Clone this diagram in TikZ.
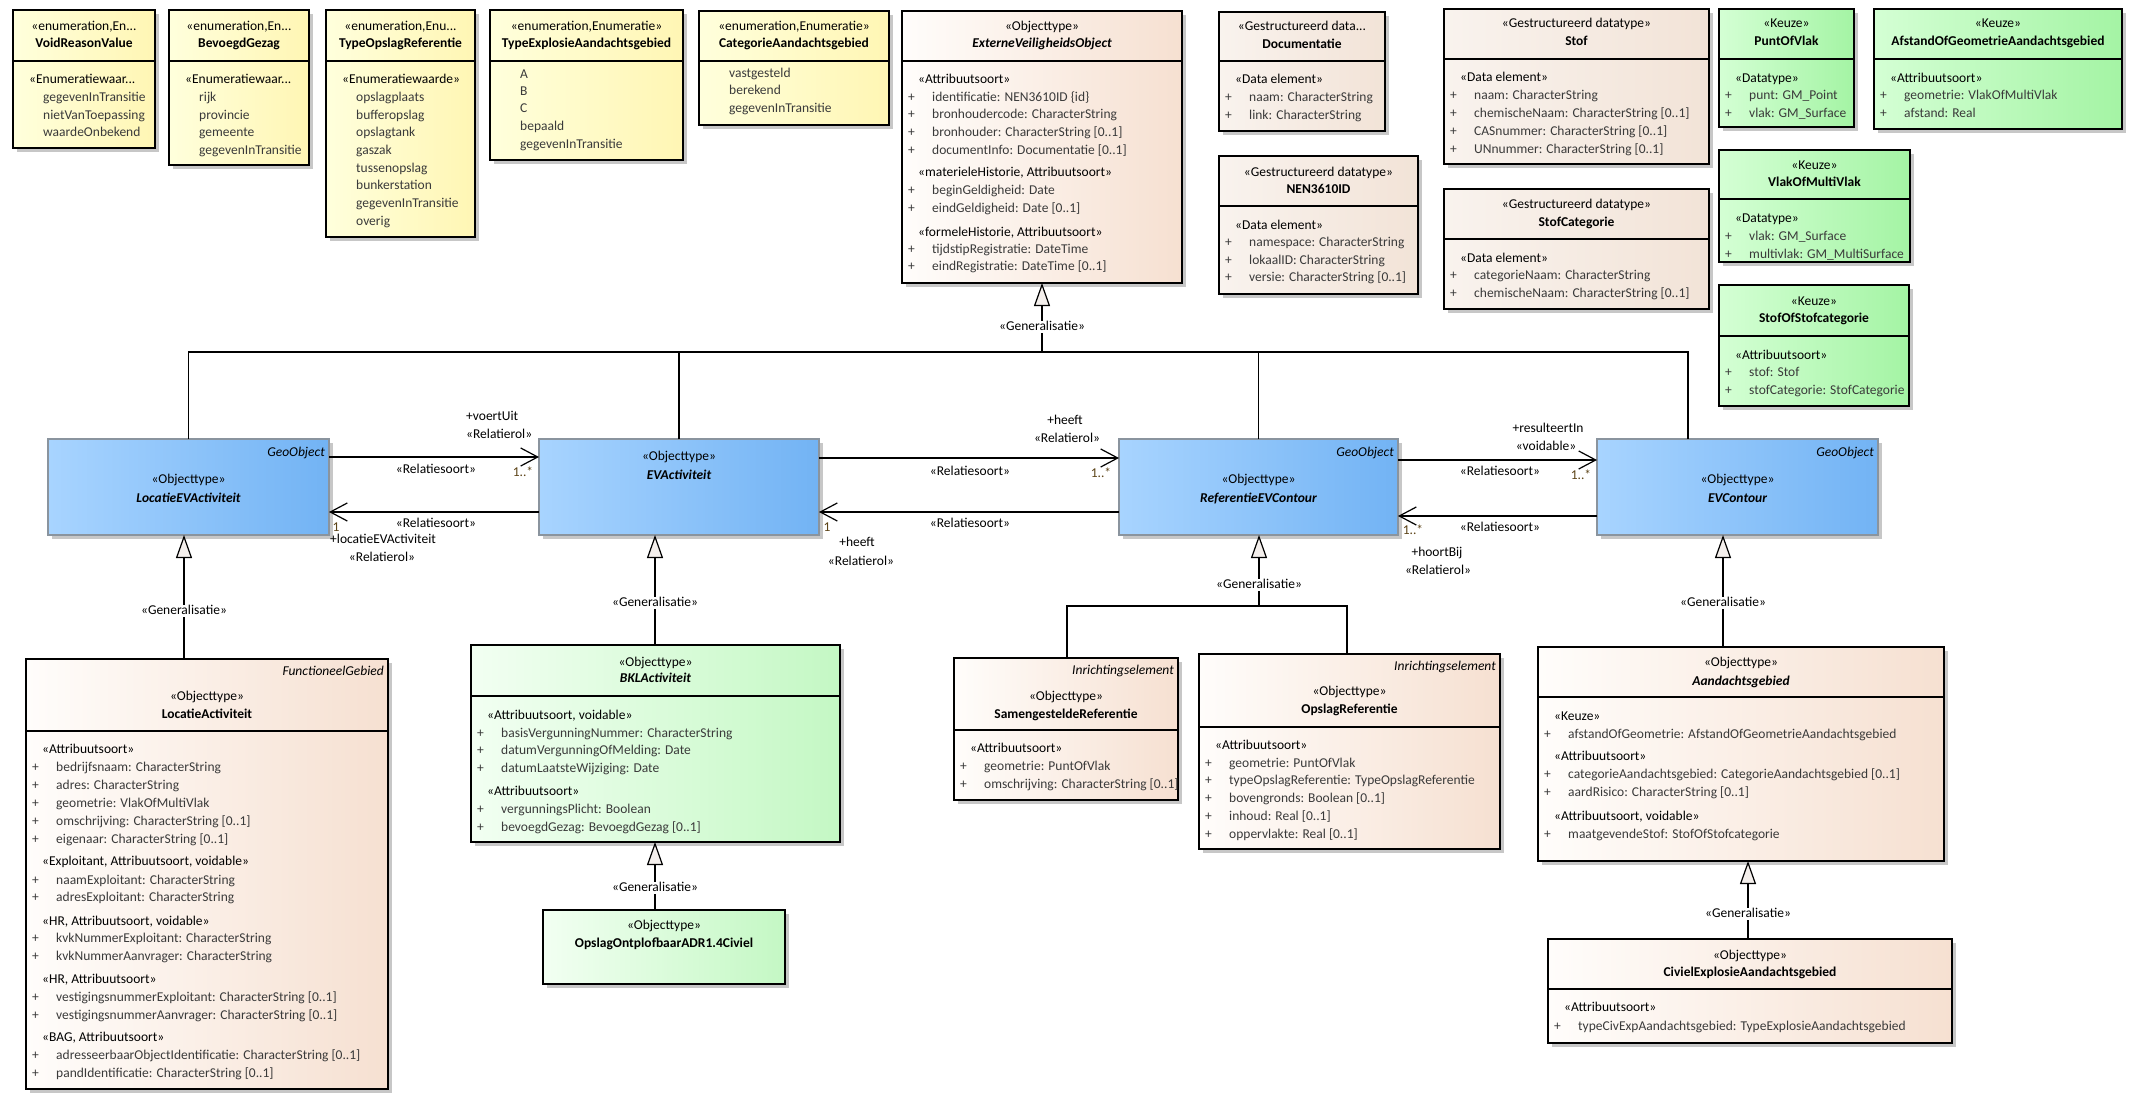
\documentclass[tikz,border=0pt]{standalone}
\usepackage{fontspec}
\setmainfont{Carlito}
\usetikzlibrary{arrows.meta,shadows}

\definecolor{enumL}{HTML}{FFFFDC}
\definecolor{enumR}{HTML}{FFF6B4}
\definecolor{objL}{HTML}{FFFDFB}
\definecolor{objR}{HTML}{F6E0D1}
\definecolor{dtL}{HTML}{F9F3EE}
\definecolor{dtR}{HTML}{F2E3D7}
\definecolor{keuzeL}{HTML}{D4FFD4}
\definecolor{keuzeR}{HTML}{A4F4A4}
\definecolor{bklL}{HTML}{F2FFF2}
\definecolor{bklR}{HTML}{C4F8C4}
\definecolor{geoL}{HTML}{A8D4FF}
\definecolor{geoR}{HTML}{72B3F4}
\definecolor{geoline}{HTML}{8A949E}
\definecolor{attrgray}{HTML}{3A3A3A}
\definecolor{multcol}{HTML}{5C4317}
\definecolor{trifill}{HTML}{F4EFEC}

\newcommand\fs{\fontsize{13.5}{16}\selectfont}

\tikzset{
  box/.style={draw, anchor=north west, outer sep=0pt, inner sep=0pt, line width=1.3pt,
    drop shadow={shadow xshift=4pt, shadow yshift=-4pt, fill=black!22, opacity=1}},
  enumbox/.style={box, left color=enumL, right color=enumR},
  objbox/.style={box, left color=objL, right color=objR},
  dtbox/.style={box, left color=dtL, right color=dtR},
  keuzebox/.style={box, left color=keuzeL, right color=keuzeR},
  bklbox/.style={box, left color=bklL, right color=bklR},
  geobox/.style={box, draw=geoline, line width=1.1pt, left color=geoL, right color=geoR},
  divline/.style={line width=1.3pt},
  txt/.style={font=\fs, inner sep=0pt, text height=9.5pt, text depth=3pt},
  stereo/.style={txt},
  cname/.style={txt, font=\fs\bfseries},
  aname/.style={txt, font=\fs\bfseries\itshape},
  tag/.style={txt, anchor=east, font=\fs\itshape},
  head/.style={txt, anchor=west},
  attr/.style={txt, anchor=west, text=attrgray},
  plus/.style={txt, anchor=west, text=attrgray},
  role/.style={txt},
  mult/.style={txt, text=multcol},
  genlbl/.style={txt, fill=white, inner xsep=2pt},
  conn/.style={line width=1.2pt},
  assoc/.style={conn, -{Straight Barb[length=17pt, width=18pt, line width=1.2pt]}},
  gen/.style={conn, line join=miter, -{Triangle[length=23pt, width=16pt, fill=trifill, line width=1.2pt]}}
}

% box: name, style, x1, y1, x2, y2, divider y
\newcommand\ubox[7]{%
  \node[#2, minimum width={(#5-#3)*1pt}, minimum height={(#6-#4)*1pt}] (#1) at (#3,#4) {};
  \draw[divline] (#1.west |- 0,#7) -- (#1.east |- 0,#7);}
\newcommand\plainbox[6]{%
  \node[#2, minimum width={(#5-#3)*1pt}, minimum height={(#6-#4)*1pt}] (#1) at (#3,#4) {};}
% header: box, y stereotype, y name, stereotype, name, name style
\newcommand\hdr[6]{%
  \node[stereo] (#1-st) at (#1.north |- 0,#2) {#4};
  \node[#6] (#1-nm) at (#1.north |- 0,#3) {#5};}
\newcommand\tagl[3]{\node[tag, xshift=-4pt] (#1-tag) at (#1.east |- 0,#2) {#3};}
% rows: box left x, y, text
\newcommand\hd[3]{\node[head] (h#1-#2) at (#1+16,#2) {#3};}
\newcommand\arow[3]{\node[plus] (p#1-#2) at (#1+6,#2) {+};
  \node[attr] (a#1-#2) at (#1+30,#2) {#3};}
\newcommand\vrow[3]{\node[attr] (v#1-#2) at (#1+30,#2) {#3};}

\begin{document}
\begin{tikzpicture}[x=1pt, y=-1pt]

\fill[white] (0,0) rectangle (2145,1108);
\useasboundingbox (0,0) rectangle (2145,1108);

% -----------------------
% Enumerations
% -----------------------
\ubox{vrv}{enumbox}{13}{10}{155}{148}{61}
\hdr{vrv}{27}{44}{«enumeration,En...}{VoidReasonValue}{cname}
\hd{13}{80}{«Enumeratiewaar...}
\vrow{13}{98}{gegevenInTransitie}
\vrow{13}{116}{nietVanToepassing}
\vrow{13}{133}{waardeOnbekend}

\ubox{bvg}{enumbox}{169}{10}{309}{165}{61}
\hdr{bvg}{27}{44}{«enumeration,En...}{BevoegdGezag}{cname}
\hd{169}{80}{«Enumeratiewaar...}
\vrow{169}{98}{rijk}
\vrow{169}{116}{provincie}
\vrow{169}{133}{gemeente}
\vrow{169}{151}{gegevenInTransitie}

\ubox{tor}{enumbox}{326}{10}{475}{237}{61}
\hdr{tor}{27}{44}{«enumeration,Enu...}{TypeOpslagReferentie}{cname}
\hd{326}{80}{«Enumeratiewaarde»}
\vrow{326}{98}{opslagplaats}
\vrow{326}{116}{bufferopslag}
\vrow{326}{133}{opslagtank}
\vrow{326}{151}{gaszak}
\vrow{326}{169}{tussenopslag}
\vrow{326}{186}{bunkerstation}
\vrow{326}{204}{gegevenInTransitie}
\vrow{326}{222}{overig}

\ubox{tea}{enumbox}{490}{10}{683}{160}{61}
\hdr{tea}{27}{44}{«enumeration,Enumeratie»}{TypeExplosieAandachtsgebied}{cname}
\vrow{490}{75}{A}
\vrow{490}{92}{B}
\vrow{490}{109}{C}
\vrow{490}{127}{bepaald}
\vrow{490}{145}{gegevenInTransitie}

\ubox{cag}{enumbox}{699}{11}{889}{125}{61}
\hdr{cag}{27}{44}{«enumeration,Enumeratie»}{CategorieAandachtsgebied}{cname}
\vrow{699}{74}{vastgesteld}
\vrow{699}{91}{berekend}
\vrow{699}{109}{gegevenInTransitie}

% -----------------------
% Supertype
% -----------------------
\ubox{evo}{objbox}{902}{11}{1182}{283}{61}
\hdr{evo}{27}{44}{«Objecttype»}{ExterneVeiligheidsObject}{aname}
\hd{902}{80}{«Attribuutsoort»}
\arow{902}{98}{identificatie: NEN3610ID \{id\}}
\arow{902}{115}{bronhoudercode: CharacterString}
\arow{902}{133}{bronhouder: CharacterString [0..1]}
\arow{902}{151}{documentInfo: Documentatie [0..1]}
\hd{902}{173}{«materieleHistorie, Attribuutsoort»}
\arow{902}{191}{beginGeldigheid: Date}
\arow{902}{209}{eindGeldigheid: Date [0..1]}
\hd{902}{233}{«formeleHistorie, Attribuutsoort»}
\arow{902}{250}{tijdstipRegistratie: DateTime}
\arow{902}{267}{eindRegistratie: DateTime [0..1]}

% -----------------------
% Data types
% -----------------------
\ubox{doc}{dtbox}{1219}{12}{1385}{131}{61}
\hdr{doc}{27}{45}{«Gestructureerd data...}{Documentatie}{cname}
\hd{1219}{80}{«Data element»}
\arow{1219}{98}{naam: CharacterString}
\arow{1219}{116}{link: CharacterString}

\ubox{nen}{dtbox}{1219}{156}{1418}{294}{206}
\hdr{nen}{173}{190}{«Gestructureerd datatype»}{NEN3610ID}{cname}
\hd{1219}{226}{«Data element»}
\arow{1219}{243}{namespace: CharacterString}
\arow{1219}{261}{lokaalID: CharacterString}
\arow{1219}{278}{versie: CharacterString [0..1]}

\ubox{stof}{dtbox}{1444}{9}{1709}{164}{59}
\hdr{stof}{24}{42}{«Gestructureerd datatype»}{Stof}{cname}
\hd{1444}{78}{«Data element»}
\arow{1444}{96}{naam: CharacterString}
\arow{1444}{114}{chemischeNaam: CharacterString [0..1]}
\arow{1444}{132}{CASnummer: CharacterString [0..1]}
\arow{1444}{150}{UNnummer: CharacterString [0..1]}

\ubox{stc}{dtbox}{1444}{189}{1709}{309}{239}
\hdr{stc}{205}{223}{«Gestructureerd datatype»}{StofCategorie}{cname}
\hd{1444}{259}{«Data element»}
\arow{1444}{276}{categorieNaam: CharacterString}
\arow{1444}{294}{chemischeNaam: CharacterString [0..1]}

% -----------------------
% Keuze types
% -----------------------
\ubox{pov}{keuzebox}{1719}{9}{1854}{127}{59}
\hdr{pov}{24}{42}{«Keuze»}{PuntOfVlak}{cname}
\hd{1719}{79}{«Datatype»}
\arow{1719}{96}{punt: GM\_Point}
\arow{1719}{114}{vlak: GM\_Surface}

\ubox{aog}{keuzebox}{1874}{9}{2122}{129}{59}
\hdr{aog}{24}{42}{«Keuze»}{AfstandOfGeometrieAandachtsgebied}{cname}
\hd{1874}{79}{«Attribuutsoort»}
\arow{1874}{96}{geometrie: VlakOfMultiVlak}
\arow{1874}{114}{afstand: Real}

\ubox{vmv}{keuzebox}{1719}{150}{1910}{262}{199}
\hdr{vmv}{166}{183}{«Keuze»}{VlakOfMultiVlak}{cname}
\hd{1719}{219}{«Datatype»}
\arow{1719}{237}{vlak: GM\_Surface}
\arow{1719}{255}{multivlak: GM\_MultiSurface}

\ubox{sos}{keuzebox}{1719}{285}{1909}{406}{336}
\hdr{sos}{302}{319}{«Keuze»}{StofOfStofcategorie}{cname}
\hd{1719}{356}{«Attribuutsoort»}
\arow{1719}{373}{stof: Stof}
\arow{1719}{391}{stofCategorie: StofCategorie}

% -----------------------
% GeoObject row
% -----------------------
\plainbox{lev}{geobox}{48}{439}{329}{535}
\tagl{lev}{453}{GeoObject}
\hdr{lev}{480}{499}{«Objecttype»}{LocatieEVActiviteit}{aname}

\plainbox{eva}{geobox}{539}{439}{819}{535}
\hdr{eva}{457}{476}{«Objecttype»}{EVActiviteit}{aname}

\plainbox{rec}{geobox}{1119}{439}{1398}{535}
\tagl{rec}{453}{GeoObject}
\hdr{rec}{480}{499}{«Objecttype»}{ReferentieEVContour}{aname}

\plainbox{evc}{geobox}{1597}{439}{1878}{535}
\tagl{evc}{453}{GeoObject}
\hdr{evc}{480}{499}{«Objecttype»}{EVContour}{aname}

% -----------------------
% Subtypes
% -----------------------
\ubox{lact}{objbox}{26}{659}{388}{1089}{731}
\tagl{lact}{672}{FunctioneelGebied}
\hdr{lact}{697}{715}{«Objecttype»}{LocatieActiviteit}{cname}
\hd{26}{750}{«Attribuutsoort»}
\arow{26}{768}{bedrijfsnaam: CharacterString}
\arow{26}{786}{adres: CharacterString}
\arow{26}{804}{geometrie: VlakOfMultiVlak}
\arow{26}{822}{omschrijving: CharacterString [0..1]}
\arow{26}{840}{eigenaar: CharacterString [0..1]}
\hd{26}{862}{«Exploitant, Attribuutsoort, voidable»}
\arow{26}{881}{naamExploitant: CharacterString}
\arow{26}{898}{adresExploitant: CharacterString}
\hd{26}{922}{«HR, Attribuutsoort, voidable»}
\arow{26}{939}{kvkNummerExploitant: CharacterString}
\arow{26}{957}{kvkNummerAanvrager: CharacterString}
\hd{26}{980}{«HR, Attribuutsoort»}
\arow{26}{998}{vestigingsnummerExploitant: CharacterString [0..1]}
\arow{26}{1016}{vestigingsnummerAanvrager: CharacterString [0..1]}
\hd{26}{1038}{«BAG, Attribuutsoort»}
\arow{26}{1056}{adresseerbaarObjectIdentificatie: CharacterString [0..1]}
\arow{26}{1074}{pandIdentificatie: CharacterString [0..1]}

\ubox{bkl}{bklbox}{471}{645}{840}{842}{696}
\hdr{bkl}{663}{679}{«Objecttype»}{BKLActiviteit}{aname}
\hd{471}{716}{«Attribuutsoort, voidable»}
\arow{471}{734}{basisVergunningNummer: CharacterString}
\arow{471}{751}{datumVergunningOfMelding: Date}
\arow{471}{769}{datumLaatsteWijziging: Date}
\hd{471}{792}{«Attribuutsoort»}
\arow{471}{810}{vergunningsPlicht: Boolean}
\arow{471}{828}{bevoegdGezag: BevoegdGezag [0..1]}

\plainbox{ood}{bklbox}{543}{910}{785}{984}
\hdr{ood}{926}{944}{«Objecttype»}{OpslagOntplofbaarADR1.4Civiel}{cname}

\ubox{sgr}{objbox}{954}{658}{1178}{800}{730}
\tagl{sgr}{671}{Inrichtingselement}
\hdr{sgr}{697}{715}{«Objecttype»}{SamengesteldeReferentie}{cname}
\hd{954}{749}{«Attribuutsoort»}
\arow{954}{767}{geometrie: PuntOfVlak}
\arow{954}{785}{omschrijving: CharacterString [0..1]}

\ubox{opr}{objbox}{1199}{654}{1500}{849}{727}
\tagl{opr}{667}{Inrichtingselement}
\hdr{opr}{692}{710}{«Objecttype»}{OpslagReferentie}{cname}
\hd{1199}{746}{«Attribuutsoort»}
\arow{1199}{764}{geometrie: PuntOfVlak}
\arow{1199}{781}{typeOpslagReferentie: TypeOpslagReferentie}
\arow{1199}{799}{bovengronds: Boolean [0..1]}
\arow{1199}{817}{inhoud: Real [0..1]}
\arow{1199}{835}{oppervlakte: Real [0..1]}

\ubox{aag}{objbox}{1538}{647}{1944}{861}{697}
\hdr{aag}{663}{682}{«Objecttype»}{Aandachtsgebied}{aname}
\hd{1538}{717}{«Keuze»}
\arow{1538}{735}{afstandOfGeometrie: AfstandOfGeometrieAandachtsgebied}
\hd{1538}{757}{«Attribuutsoort»}
\arow{1538}{775}{categorieAandachtsgebied: CategorieAandachtsgebied [0..1]}
\arow{1538}{793}{aardRisico: CharacterString [0..1]}
\hd{1538}{817}{«Attribuutsoort, voidable»}
\arow{1538}{835}{maatgevendeStof: StofOfStofcategorie}

\ubox{cea}{objbox}{1548}{939}{1952}{1043}{989}
\hdr{cea}{956}{973}{«Objecttype»}{CivielExplosieAandachtsgebied}{cname}
\hd{1548}{1008}{«Attribuutsoort»}
\arow{1548}{1027}{typeCivExpAandachtsgebied: TypeExplosieAandachtsgebied}

% -----------------------
% Generalisations
% -----------------------
\coordinate (busL) at (lev.north |- 0,352);
\coordinate (busR) at (1688,352);
\draw[conn] (lev.north) -- (busL) -- (busR) -- (evc.north -| busR);
\draw[conn] (eva.north) -- (eva.north |- busL);
\draw[conn] (rec.north) -- (rec.north |- busL);
\draw[gen] (evo.south |- busL) -- (evo.south);
\node[genlbl] (g0) at (evo.south |- 0,327) {«Generalisatie»};

\draw[gen] (lact.north -| 184,0) -- (lev.south -| 184,0);
\node[genlbl] (g1) at (184,611) {«Generalisatie»};

\draw[gen] (bkl.north -| 655,0) -- (eva.south -| 655,0);
\node[genlbl] (g2) at (655,603) {«Generalisatie»};

\draw[gen] (ood.north -| 655,0) -- (bkl.south -| 655,0);
\node[genlbl] (g3) at (655,888) {«Generalisatie»};

\coordinate (fork) at (1259,606);
\draw[conn] (sgr.north -| 1067,0) -- (1067,606) -- (1347,606) -- (opr.north -| 1347,0);
\draw[gen] (fork) -- (rec.south -| fork);
\node[genlbl] (g4) at (1259,585) {«Generalisatie»};

\draw[gen] (aag.north -| 1723,0) -- (evc.south -| 1723,0);
\node[genlbl] (g5) at (1723,603) {«Generalisatie»};

\draw[gen] (cea.north -| 1748,0) -- (aag.south -| 1748,0);
\node[genlbl] (g6) at (1748,914) {«Generalisatie»};

% -----------------------
% Associations
% -----------------------
\draw[assoc] (lev.east |- 0,457) -- (eva.west |- 0,457);
\draw[assoc] (eva.west |- 0,512) -- (lev.east |- 0,512);
\draw[assoc] (eva.east |- 0,458) -- (rec.west |- 0,458);
\draw[assoc] (rec.west |- 0,512) -- (eva.east |- 0,512);
\draw[assoc] (rec.east |- 0,460) -- (evc.west |- 0,460);
\draw[assoc] (evc.west |- 0,516) -- (rec.east |- 0,516);

% roles and multiplicities
\node[role, anchor=west] (r1a) at (466,417) {+voertUit};
\node[role, anchor=west] (r1b) at (466,435) {«Relatierol»};
\node[role] (s1) at (436,470) {«Relatiesoort»};
\node[mult] (m1) at (523,473) {1..*};
\node[role] (s2) at (436,524) {«Relatiesoort»};
\node[mult] (m2) at (336,528) {1};
\node[role, anchor=west] (r2a) at (330,540) {+locatieEVActiviteit};
\node[role] (r2b) at (382,558) {«Relatierol»};

\node[role] (r3a) at (1065,421) {+heeft};
\node[role] (r3b) at (1067,439) {«Relatierol»};
\node[role] (s3) at (970,472) {«Relatiesoort»};
\node[mult] (m3) at (1101,474) {1..*};
\node[role] (s4) at (970,524) {«Relatiesoort»};
\node[mult] (m4) at (827,528) {1};
\node[role] (r4a) at (857,543) {+heeft};
\node[role] (r4b) at (861,562) {«Relatierol»};

\node[role] (r5a) at (1548,429) {+resulteertIn};
\node[role] (r5b) at (1546,447) {«voidable»};
\node[role] (s5) at (1500,472) {«Relatiesoort»};
\node[mult] (m5) at (1581,476) {1..*};
\node[role] (s6) at (1500,528) {«Relatiesoort»};
\node[mult] (m6) at (1413,531) {1..*};
\node[role] (r6a) at (1437,553) {+hoortBij};
\node[role] (r6b) at (1438,571) {«Relatierol»};

\end{tikzpicture}
\end{document}
